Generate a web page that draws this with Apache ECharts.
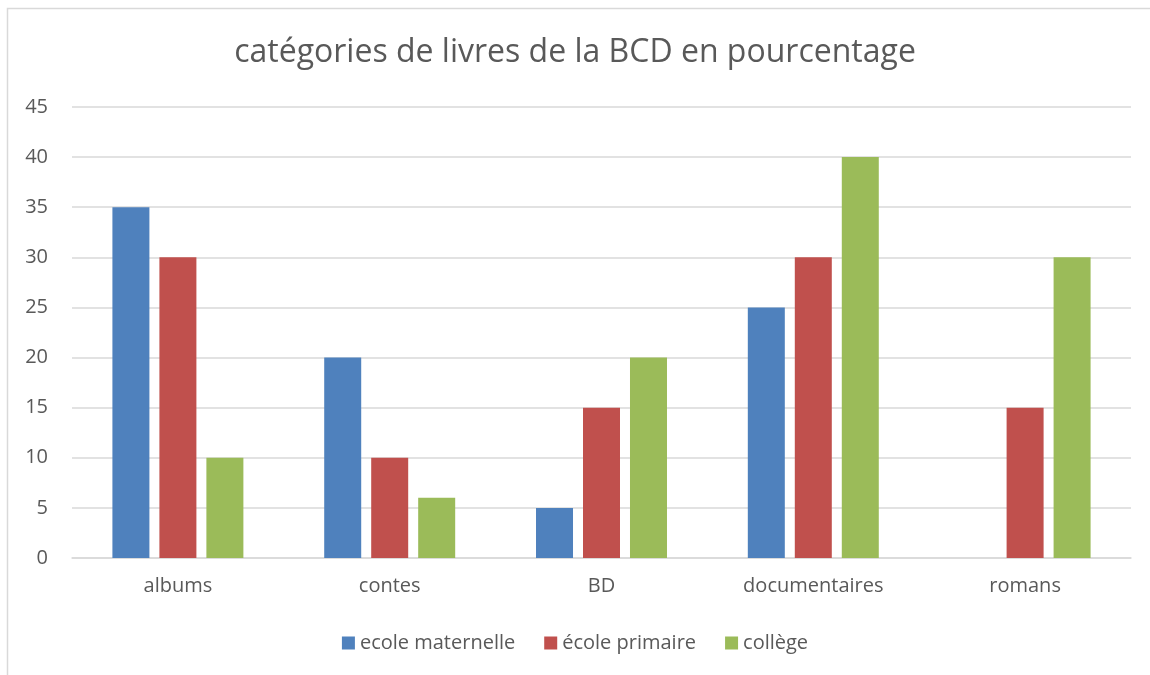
<!DOCTYPE html>
<html>
<head>
<meta charset="utf-8">
<script src="https://cdn.jsdelivr.net/npm/echarts@6/dist/echarts.min.js"></script>
<style>
  html, body { margin: 0; padding: 0; background: #fff; }
  #main { width: 1150px; height: 675px; }
</style>
</head>
<body>
<div id="main"></div>
<script>
const categories = ['albums', 'contes', 'BD', 'documentaires', 'romans'];
const maternelle = [35, 20, 5, 25, null];
const primaire = [30, 10, 15, 30, 15];
const college = [10, 6, 20, 40, 30];

const chart = echarts.init(document.getElementById('main'));
const font = '"Open Sans", Lato, sans-serif';

function bar(name, data, color) {
  return {
    name: name,
    type: 'bar',
    data: data,
    barWidth: 37,
    barGap: '27%',
    itemStyle: { color: color }
  };
}

chart.setOption({
  animation: false,
  textStyle: { fontFamily: font },
  title: {
    text: 'catégories de livres de la BCD en pourcentage',
    left: 'center',
    top: 32,
    textStyle: { fontSize: 32, fontWeight: 'normal', color: '#595959', fontFamily: font }
  },
  graphic: [{
    type: 'polyline',
    shape: { points: [[7.5, 700], [7.5, 8.5], [1160, 8.5]] },
    style: { stroke: '#d9d9d9', lineWidth: 1.5, fill: null },
    silent: true
  }],
  legend: {
    bottom: 17,
    left: 'center',
    itemWidth: 13,
    itemHeight: 13,
    itemGap: 29,
    icon: 'rect',
    textStyle: { fontSize: 20, color: '#595959', fontFamily: font }
  },
  grid: { left: 72, right: 19, top: 107, bottom: 117 },
  xAxis: {
    type: 'category',
    data: categories,
    axisLine: { lineStyle: { color: '#d9d9d9', width: 1.5 } },
    axisTick: { show: false },
    axisLabel: { fontSize: 20, color: '#595959', margin: 18 }
  },
  yAxis: {
    type: 'value',
    min: 0,
    max: 45,
    interval: 5,
    axisLine: { show: false },
    axisTick: { show: false },
    splitLine: { lineStyle: { color: '#d9d9d9', width: 1.5 } },
    axisLabel: { fontSize: 20, color: '#595959', margin: 24 }
  },
  series: [
    bar('ecole maternelle', maternelle, '#4f81bd'),
    bar('école primaire', primaire, '#c0504d'),
    bar('collège', college, '#9bbb59')
  ]
});
</script>
</body>
</html>
